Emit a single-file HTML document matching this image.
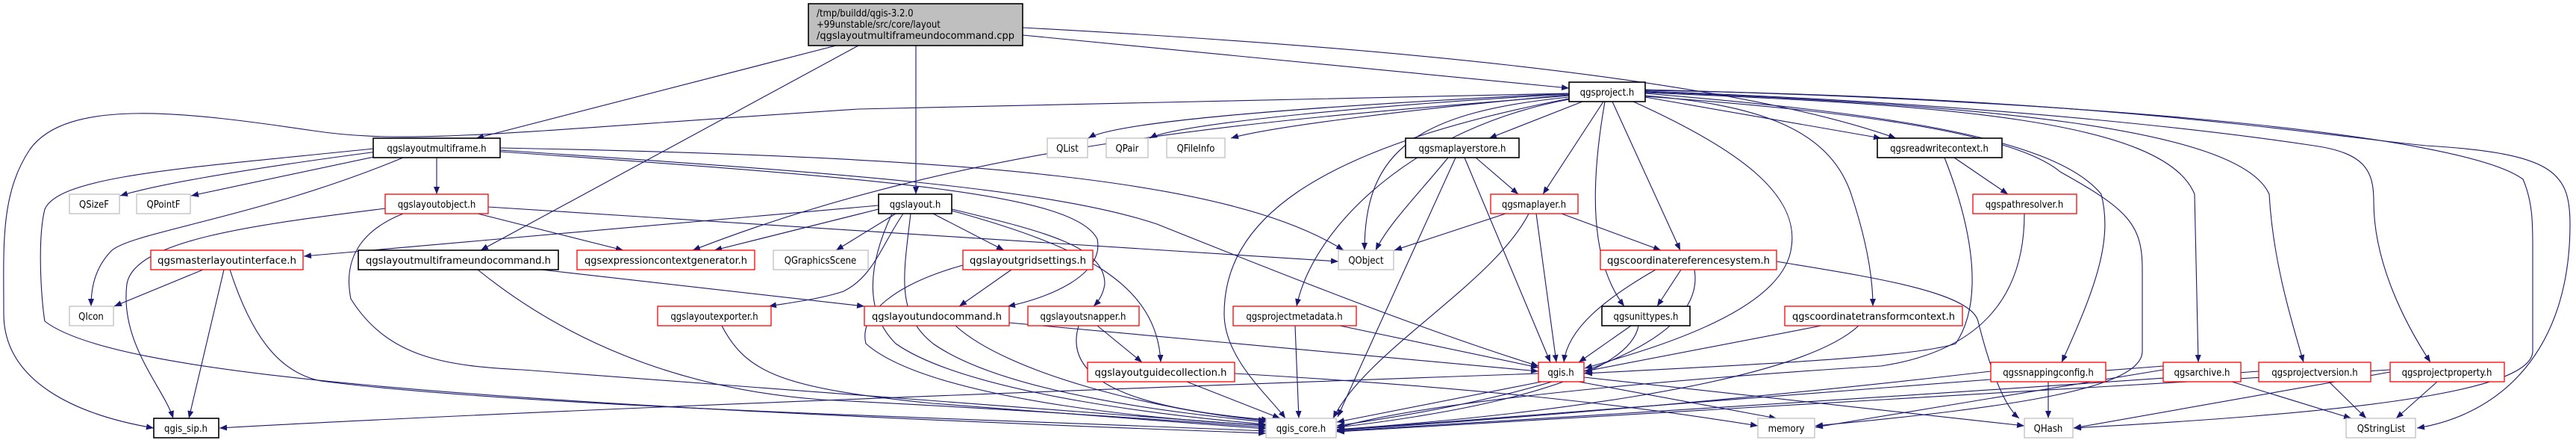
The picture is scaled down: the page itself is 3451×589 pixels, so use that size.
<!DOCTYPE html>
<html><head><meta charset="utf-8"><style>
html,body{margin:0;padding:0;background:#fff;}
svg{display:block;}
text{font-family:"DejaVu Sans Condensed","DejaVu Sans","Liberation Sans",sans-serif;font-size:13px;fill:#000;}
.e{fill:none;stroke:#191970;stroke-width:1.1;marker-end:url(#a);}
.b{fill:#fff;stroke:#000;stroke-width:1.6;}
.r{fill:#fff;stroke:#ff0000;stroke-width:1.3;}
.g{fill:#fff;stroke:#bfbfbf;stroke-width:1.3;}
</style></head><body>
<svg width="3451" height="589" viewBox="0 0 3451 589" xmlns="http://www.w3.org/2000/svg">
<defs><marker id="a" markerUnits="userSpaceOnUse" markerWidth="11" markerHeight="8" refX="10" refY="4" orient="auto"><path d="M0,0 L10,4 L0,8 z" fill="#191970"/></marker></defs>
<g>
<!-- main -->
<path class="e" d="M1120,61 L638,185"/>
<path class="e" d="M1150,61 L644,335"/>
<path class="e" d="M1227,61 L1227,260"/>
<path class="e" d="M1370,47 L2102,118"/>
<path class="e" d="M1370,37 C1800,60 2300,100 2540,185"/>
<!-- project -->
<path class="e" d="M2102,125 L1150,146 C700,175 550,195 420,175 C250,150 90,130 40,200 C0,260 5,330 5,420 C5,510 100,555 206,573"/>
<path class="e" d="M2102,125 C1800,140 1500,160 1458,185"/>
<path class="e" d="M2102,126 C1850,140 1580,165 1540,185"/>
<path class="e" d="M2102,127 C1900,145 1700,170 1649,185"/>
<path class="e" d="M2102,128 C1700,160 1300,190 928,335"/>
<path class="e" d="M2102,130 C1900,150 1828,200 1828,335"/>
<path class="e" d="M2120,136 L1995,185"/>
<path class="e" d="M2148,136 L2067,260"/>
<path class="e" d="M2150,136 C2130,250 2130,350 2176,410"/>
<path class="e" d="M2160,136 L2251,335"/>
<path class="e" d="M2102,133 C1900,170 1760,300 1737,410"/>
<path class="e" d="M2102,132 C1750,200 1640,300 1640,420 C1640,480 1700,530 1722,560"/>
<path class="e" d="M2188,136 C2330,200 2410,260 2400,330 C2390,420 2200,470 2123,493"/>
<path class="e" d="M2204,128 C2350,140 2450,170 2480,260 C2500,320 2509,370 2509,410"/>
<path class="e" d="M2204,130 L2520,185"/>
<path class="e" d="M2204,125 C2500,150 2750,180 2815,260 C2830,320 2810,380 2762,485"/>
<path class="e" d="M2204,124 C2600,140 2900,160 2940,260 L2945,485"/>
<path class="e" d="M2204,123 C2650,140 3000,170 3040,260 C3045,350 3070,430 3086,485"/>
<path class="e" d="M2204,122 C2700,140 3000,180 3100,195 C3170,205 3180,230 3180,270 C3180,350 3220,430 3256,485"/>
<path class="e" d="M2204,121 C2800,130 3100,180 3250,195 C3420,205 3443,230 3443,300 C3443,470 3350,555 3238,573"/>
<path class="e" d="M2204,120 C2800,135 3300,180 3380,240 C3393,270 3393,300 3393,330 L3393,470 C3393,530 3100,555 2778,573"/>
<path class="e" d="M2204,129 C2500,150 2700,180 2760,230 C2850,280 2870,300 2870,360 L2870,470 C2870,520 2700,545 2432,570"/>
<!-- maplayerstore -->
<path class="e" d="M1940,211 C1900,260 1860,300 1843,335"/>
<path class="e" d="M1950,211 L1792,558"/>
<path class="e" d="M1977,211 L2034,260"/>
<path class="e" d="M1962,211 L2077,485"/>
<!-- maplayer -->
<path class="e" d="M2017,286 L1868,335"/>
<path class="e" d="M2092,286 L2225,335"/>
<path class="e" d="M2058,286 L2085,485"/>
<path class="e" d="M2048,286 C2000,380 1830,470 1786,560"/>
<!-- crs -->
<path class="e" d="M2218,361 C2150,400 2100,440 2095,485"/>
<path class="e" d="M2252,361 L2220,410"/>
<path class="e" d="M2270,361 C2290,480 2000,540 1791,570"/>
<path class="e" d="M2380,350 C2500,370 2640,390 2650,430 C2660,470 2680,540 2705,560"/>
<!-- unittypes -->
<path class="e" d="M2185,436 L2115,485"/>
<path class="e" d="M2195,436 C2180,520 1900,560 1791,572"/>
<!-- projmeta -->
<path class="e" d="M1795,436 L2061,492"/>
<path class="e" d="M1735,436 L1740,560"/>
<!-- ctc -->
<path class="e" d="M2440,436 L2123,497"/>
<path class="e" d="M2490,436 C2400,520 2000,560 1791,575"/>
<!-- rwc -->
<path class="e" d="M2618,211 L2690,260"/>
<path class="e" d="M2605,211 C2640,300 2660,400 2620,460 C2560,480 2300,490 2123,500"/>
<path class="e" d="M2712,286 C2712,400 2650,470 2520,490 C2200,510 1900,540 1791,573"/>
<!-- qgis.h -->
<path class="e" d="M2061,500 C1500,520 700,550 294,573"/>
<path class="e" d="M2065,511 L1791,565"/>
<path class="e" d="M2115,511 L2380,560"/>
<path class="e" d="M2122,505 L2712,570"/>
<!-- bottom row5 -->
<path class="e" d="M2667,497 C2300,540 1900,570 1791,575"/>
<path class="e" d="M2744,511 L2744,560"/>
<path class="e" d="M2898,490 C2400,530 1900,565 1791,576"/>
<path class="e" d="M2898,495 L2432,572"/>
<path class="e" d="M2990,511 L3150,560"/>
<path class="e" d="M3026,497 C2500,535 1900,570 1791,577"/>
<path class="e" d="M3120,511 L3170,560"/>
<path class="e" d="M3202,498 L2778,573"/>
<path class="e" d="M3265,511 L3210,560"/>
<path class="e" d="M3202,495 C2600,530 2000,570 1791,578"/>
<!-- lmf -->
<path class="e" d="M505,203 C300,230 200,250 161,262"/>
<path class="e" d="M515,207 L256,262"/>
<path class="e" d="M585,211 L585,260"/>
<path class="e" d="M540,211 C350,290 180,310 150,335 C125,360 122,390 122,410"/>
<path class="e" d="M500,199 C250,225 80,235 60,280 C50,320 55,400 60,430 C150,500 600,540 1696,580"/>
<path class="e" d="M670,198 C1300,210 1650,240 1800,335"/>
<path class="e" d="M670,201 C1100,230 1400,250 1550,300 C1700,360 1900,440 2061,490"/>
<path class="e" d="M670,203 C1200,240 1440,260 1470,320 C1480,370 1400,400 1350,410"/>
<!-- lobj -->
<path class="e" d="M516,279 C350,300 180,320 170,380 C160,460 220,520 232,560"/>
<path class="e" d="M540,286 C480,310 460,350 470,400 C520,480 600,490 700,495 C900,510 1300,540 1696,570"/>
<path class="e" d="M640,286 L835,335"/>
<path class="e" d="M654,277 L1793,350"/>
<!-- layout -->
<path class="e" d="M1177,275 L407,343"/>
<path class="e" d="M1177,280 L957,335"/>
<path class="e" d="M1200,286 L1120,335"/>
<path class="e" d="M1250,286 L1345,335"/>
<path class="e" d="M1275,280 C1400,310 1480,330 1480,380 C1478,395 1470,405 1465,410"/>
<path class="e" d="M1275,282 C1450,330 1550,380 1555,485"/>
<path class="e" d="M1210,286 C1180,330 1170,370 1130,390 C1100,400 1060,405 1030,410"/>
<path class="e" d="M1195,286 C1160,360 1160,420 1200,460 C1300,530 1600,560 1696,568"/>
<path class="e" d="M1220,286 C1210,370 1200,420 1250,460 C1350,530 1600,555 1696,565"/>
<!-- master -->
<path class="e" d="M272,361 L153,410"/>
<path class="e" d="M300,361 L253,560"/>
<path class="e" d="M308,361 C340,460 380,500 430,510 C700,545 1300,560 1696,577"/>
<!-- lmfuc -->
<path class="e" d="M725,361 L1158,410"/>
<path class="e" d="M640,361 C750,450 900,520 1100,535 C1400,550 1600,565 1696,572"/>
<!-- gridset -->
<path class="e" d="M1355,361 L1285,410"/>
<path class="e" d="M1290,355 C1200,380 1150,420 1160,460 C1250,540 1600,565 1696,569"/>
<!-- undocmd -->
<path class="e" d="M1352,432 L2061,497"/>
<path class="e" d="M1280,436 C1350,500 1550,550 1696,563"/>
<!-- snapper -->
<path class="e" d="M1470,436 L1530,485"/>
<path class="e" d="M1445,436 C1420,520 1550,550 1700,562"/>
<!-- guidecoll -->
<path class="e" d="M1590,511 L1715,560"/>
<path class="e" d="M1654,500 C2000,520 2200,545 2355,570"/>
<!-- exporter -->
<path class="e" d="M967,436 C1000,500 1050,520 1250,540 C1500,560 1650,570 1696,574"/>
</g>
<g>
<!-- main node -->
<rect x="1083" y="5" width="287" height="56" fill="#bfbfbf" stroke="#000" stroke-width="1.6"/>
<text x="1094" y="22">/tmp/buildd/qgis-3.2.0</text>
<text x="1094" y="37">+99unstable/src/core/layout</text>
<text x="1094" y="52" textLength="265" lengthAdjust="spacingAndGlyphs">/qgslayoutmultiframeundocommand.cpp</text>

<rect class="b" x="2102" y="110" width="102" height="26"/><text x="2153" y="128" text-anchor="middle">qgsproject.h</text>

<rect class="b" x="500" y="185" width="170" height="26"/><text x="585" y="203" text-anchor="middle">qgslayoutmultiframe.h</text>
<rect class="g" x="1403" y="185" width="54" height="26"/><text x="1430" y="203" text-anchor="middle">QList</text>
<rect class="g" x="1482" y="185" width="56" height="26"/><text x="1510" y="203" text-anchor="middle">QPair</text>
<rect class="g" x="1563" y="185" width="78" height="26"/><text x="1602" y="203" text-anchor="middle">QFileInfo</text>
<rect class="b" x="1883" y="185" width="152" height="26"/><text x="1959" y="203" text-anchor="middle">qgsmaplayerstore.h</text>
<rect class="b" x="2515" y="185" width="167" height="26"/><text x="2598" y="203" text-anchor="middle">qgsreadwritecontext.h</text>

<rect class="g" x="93" y="260" width="67" height="26"/><text x="126" y="278" text-anchor="middle">QSizeF</text>
<rect class="g" x="183" y="260" width="72" height="26"/><text x="219" y="278" text-anchor="middle">QPointF</text>
<rect class="r" x="516" y="260" width="138" height="26"/><text x="585" y="278" text-anchor="middle">qgslayoutobject.h</text>
<rect class="b" x="1177" y="260" width="98" height="26"/><text x="1226" y="278" text-anchor="middle">qgslayout.h</text>
<rect class="r" x="1997" y="260" width="117" height="26"/><text x="2055" y="278" text-anchor="middle">qgsmaplayer.h</text>
<rect class="r" x="2643" y="260" width="139" height="26"/><text x="2712" y="278" text-anchor="middle">qgspathresolver.h</text>

<rect class="r" x="202" y="335" width="204" height="26"/><text x="304" y="353" text-anchor="middle" textLength="186" lengthAdjust="spacingAndGlyphs">qgsmasterlayoutinterface.h</text>
<rect class="b" x="480" y="335" width="268" height="26"/><text x="614" y="353" text-anchor="middle" textLength="248" lengthAdjust="spacingAndGlyphs">qgslayoutmultiframeundocommand.h</text>
<rect class="r" x="773" y="335" width="238" height="26"/><text x="892" y="353" text-anchor="middle" textLength="218" lengthAdjust="spacingAndGlyphs">qgsexpressioncontextgenerator.h</text>
<rect class="g" x="1036" y="335" width="127" height="26"/><text x="1099" y="353" text-anchor="middle">QGraphicsScene</text>
<rect class="r" x="1290" y="335" width="174" height="26"/><text x="1377" y="353" text-anchor="middle" textLength="156" lengthAdjust="spacingAndGlyphs">qgslayoutgridsettings.h</text>
<rect class="g" x="1793" y="335" width="74" height="26"/><text x="1830" y="353" text-anchor="middle">QObject</text>
<rect class="r" x="2144" y="335" width="236" height="26"/><text x="2262" y="353" text-anchor="middle" textLength="218" lengthAdjust="spacingAndGlyphs">qgscoordinatereferencesystem.h</text>

<rect class="g" x="93" y="410" width="59" height="26"/><text x="122" y="428" text-anchor="middle">QIcon</text>
<rect class="r" x="881" y="410" width="152" height="26"/><text x="957" y="428" text-anchor="middle">qgslayoutexporter.h</text>
<rect class="r" x="1158" y="410" width="194" height="26"/><text x="1255" y="428" text-anchor="middle" textLength="174" lengthAdjust="spacingAndGlyphs">qgslayoutundocommand.h</text>
<rect class="r" x="1377" y="410" width="149" height="26"/><text x="1451" y="428" text-anchor="middle">qgslayoutsnapper.h</text>
<rect class="r" x="1652" y="410" width="165" height="26"/><text x="1734" y="428" text-anchor="middle">qgsprojectmetadata.h</text>
<rect class="b" x="2146" y="410" width="118" height="26"/><text x="2205" y="428" text-anchor="middle">qgsunittypes.h</text>
<rect class="r" x="2391" y="410" width="238" height="26"/><text x="2510" y="428" text-anchor="middle" textLength="218" lengthAdjust="spacingAndGlyphs">qgscoordinatetransformcontext.h</text>

<rect class="r" x="1457" y="485" width="197" height="26"/><text x="1555" y="503" text-anchor="middle" textLength="177" lengthAdjust="spacingAndGlyphs">qgslayoutguidecollection.h</text>
<rect class="r" x="2061" y="485" width="61" height="26"/><text x="2091" y="503" text-anchor="middle">qgis.h</text>
<rect class="r" x="2667" y="485" width="154" height="26"/><text x="2744" y="503" text-anchor="middle">qgssnappingconfig.h</text>
<rect class="r" x="2898" y="485" width="104" height="26"/><text x="2950" y="503" text-anchor="middle">qgsarchive.h</text>
<rect class="r" x="3026" y="485" width="150" height="26"/><text x="3101" y="503" text-anchor="middle">qgsprojectversion.h</text>
<rect class="r" x="3202" y="485" width="153" height="26"/><text x="3278" y="503" text-anchor="middle">qgsprojectproperty.h</text>

<rect class="b" x="206" y="560" width="87" height="26"/><text x="249" y="578" text-anchor="middle">qgis_sip.h</text>
<rect class="g" x="1696" y="560" width="94" height="26"/><text x="1743" y="578" text-anchor="middle">qgis_core.h</text>
<rect class="g" x="2355" y="560" width="76" height="26"/><text x="2393" y="578" text-anchor="middle">memory</text>
<rect class="g" x="2712" y="560" width="65" height="26"/><text x="2744" y="578" text-anchor="middle">QHash</text>
<rect class="g" x="3143" y="560" width="93" height="26"/><text x="3190" y="578" text-anchor="middle">QStringList</text>
</g>
</svg>
</body></html>
